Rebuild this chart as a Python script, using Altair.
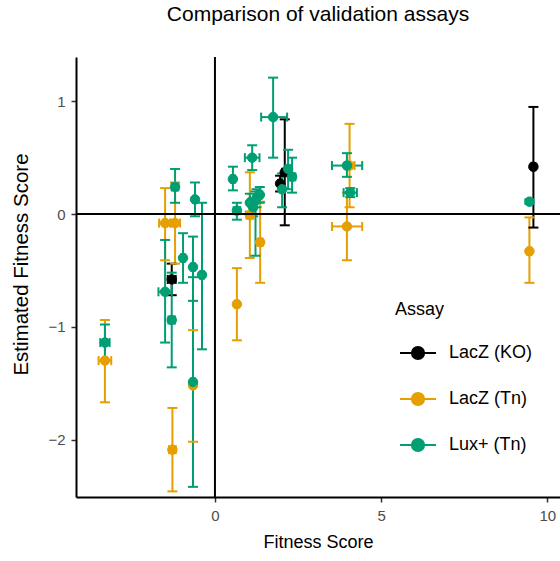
import altair as alt
import pandas as pd

# Validation assay comparison: fitness score vs estimated fitness score
assay = (
    ["LacZ (KO)"] * 4
    + ["LacZ (Tn)"] * 11
    + ["Lux+ (Tn)"] * 24
)

fitness = [
    -1.30, 1.96, 2.10, 9.58,
    -3.31, -1.50, -1.20, -1.28, -0.66, 0.66, 1.05, 1.36, 4.05, 3.97, 9.46,
    -3.31, -1.20, -0.60, -0.96, -0.66, -0.39, -1.50, -1.30, -0.66, 0.54, 0.66,
    1.12, 1.05, 1.15, 1.25, 1.35, 1.75, 2.20, 2.32, 2.02, 3.97, 4.07, 9.46, 1.22,
]
estimate = [
    -0.58, 0.27, 0.37, 0.42,
    -1.30, -0.08, -0.08, -2.09, -1.52, -0.80, -0.01, -0.25, 0.43, -0.11, -0.33,
    -1.14, 0.24, 0.13, -0.39, -0.47, -0.54, -0.69, -0.94, -1.49, 0.31, 0.03,
    0.50, 0.10, 0.06, 0.14, 0.17, 0.86, 0.40, 0.33, 0.22, 0.43, 0.19, 0.11, 0.12,
]
fit_lo = [
    -1.42, 1.90, 2.02, 9.52,
    -3.50, -1.68, -1.35, -1.38, -0.72, 0.62, 0.95, 1.28, 3.90, 3.52, 9.40,
    -3.45, -1.30, -0.66, -1.02, -0.72, -0.45, -1.70, -1.40, -0.72, 0.48, 0.56,
    0.90, 1.00, 1.10, 1.18, 1.28, 1.39, 2.12, 2.22, 1.96, 3.52, 3.87, 9.44, 1.16,
]
fit_hi = [
    -1.18, 2.02, 2.18, 9.64,
    -3.12, -1.32, -1.05, -1.18, -0.60, 0.70, 1.15, 1.44, 4.20, 4.43, 9.52,
    -3.17, -1.10, -0.54, -0.90, -0.60, -0.33, -1.30, -1.20, -0.60, 0.60, 0.76,
    1.34, 1.10, 1.20, 1.32, 1.42, 2.17, 2.28, 2.42, 2.08, 4.43, 4.27, 9.48, 1.28,
]
est_lo = [
    -0.72, 0.20, -0.10, -0.12,
    -1.67, -0.41, -0.44, -2.46, -2.02, -1.12, -0.39, -0.61, 0.06, -0.41, -0.61,
    -1.30, 0.10, -0.02, -0.61, -0.77, -1.20, -1.14, -1.36, -2.42, 0.21, -0.05,
    0.39, 0.02, -0.02, 0.06, 0.10, 0.50, 0.22, 0.19, 0.06, 0.33, 0.15, 0.09, -0.37,
]
est_hi = [
    -0.44, 0.34, 0.84, 0.95,
    -0.94, 0.23, 0.28, -1.72, -1.03, -0.48, 0.37, 0.11, 0.80, 0.19, -0.03,
    -0.98, 0.40, 0.28, -0.17, -0.20, 0.10, -0.23, -0.52, -0.56, 0.42, 0.10,
    0.61, 0.18, 0.14, 0.22, 0.24, 1.21, 0.57, 0.50, 0.36, 0.54, 0.23, 0.13, 0.20,
]

assay_names = ["LacZ (KO)", "LacZ (Tn)", "Lux+ (Tn)"]
assay_colors = ["#000000", "#E69F00", "#009E73"]

df = pd.DataFrame({
    "assay": assay,
    "fitness": fitness,
    "estimate": estimate,
    "fit_lo": fit_lo,
    "fit_hi": fit_hi,
    "est_lo": est_lo,
    "est_hi": est_hi,
})

FONT = "Liberation Sans"

x_scale = alt.Scale(domain=[-4.18, 10.38], nice=False, zero=False)
y_scale = alt.Scale(domain=[-2.51, 1.393], nice=False, zero=False)
x_axis = alt.Axis(values=[0, 5, 10], title="Fitness Score")
y_axis = alt.Axis(
    values=[-2, -1, 0, 1],
    title="Estimated Fitness Score",
    titleFontSize=20.5,
    titleY=207,
    titlePadding=16,
)

# legend key: a short line with a dot in the middle
key_path = "M-1,0L1,0M-0.34,0A0.34,0.34,0,1,0,0.34,0A0.34,0.34,0,1,0,-0.34,0Z"
legend = alt.Legend(
    title="Assay",
    orient="none",
    legendX=319,
    legendY=244,
    symbolType=key_path,
    symbolSize=1296,
    symbolStrokeWidth=2,
    symbolOpacity=1,
    symbolOffset=4,
    labelOffset=12,
    rowPadding=16,
    titlePadding=15,
    padding=0,
    labelFontSize=18,
    titleFontSize=18,
    titleFontWeight="normal",
    labelColor="black",
    titleColor="black",
    labelFont=FONT,
    titleFont=FONT,
)
color_scale = alt.Scale(domain=assay_names, range=assay_colors)
color = alt.Color("assay:N", scale=color_scale, legend=legend)
stroke = alt.Stroke("assay:N", scale=color_scale, legend=legend)

base = alt.Chart(df)

v_bars = base.mark_rule(strokeWidth=2).encode(
    x=alt.X("fitness:Q", scale=x_scale, axis=x_axis),
    y=alt.Y("est_lo:Q", scale=y_scale, axis=y_axis),
    y2="est_hi:Q",
    color=color,
)
v_caps = base.transform_fold(
    ["est_lo", "est_hi"], as_=["end", "est_end"]
).mark_tick(orient="horizontal", size=10, thickness=2, opacity=1).encode(
    x=alt.X("fitness:Q", scale=x_scale, axis=x_axis),
    y=alt.Y("est_end:Q", scale=y_scale, axis=y_axis),
    color=color,
)
h_bars = base.mark_rule(strokeWidth=2).encode(
    x=alt.X("fit_lo:Q", scale=x_scale, axis=x_axis),
    x2="fit_hi:Q",
    y=alt.Y("estimate:Q", scale=y_scale, axis=y_axis),
    color=color,
)
h_caps = base.transform_fold(
    ["fit_lo", "fit_hi"], as_=["end", "fit_end"]
).mark_tick(orient="vertical", size=9, thickness=2, opacity=1).encode(
    x=alt.X("fit_end:Q", scale=x_scale, axis=x_axis),
    y=alt.Y("estimate:Q", scale=y_scale, axis=y_axis),
    color=color,
)
points = base.mark_circle(size=90, opacity=1, strokeWidth=1).encode(
    x=alt.X("fitness:Q", scale=x_scale, axis=x_axis),
    y=alt.Y("estimate:Q", scale=y_scale, axis=y_axis),
    color=color,
    stroke=stroke,
)

zero = pd.DataFrame({"zero": [0.0]})
v_zero = alt.Chart(zero).mark_rule(color="black", strokeWidth=2).encode(
    x=alt.X("zero:Q", scale=x_scale, axis=x_axis)
)
h_zero = alt.Chart(zero).mark_rule(color="black", strokeWidth=2).encode(
    y=alt.Y("zero:Q", scale=y_scale, axis=y_axis)
)

chart = alt.layer(
    v_bars, v_caps, h_bars, h_caps, points, v_zero, h_zero
).properties(
    width=484,
    height=440,
    autosize="none",
    padding={"left": 76, "top": 57, "right": 0, "bottom": 64},
    title=alt.TitleParams(
        "Comparison of validation assays",
        fontSize=21,
        fontWeight="normal",
        color="black",
        font=FONT,
        offset=31,
    ),
).configure_view(
    stroke=None
).configure_axis(
    grid=False,
    domainColor="black",
    domainWidth=2,
    tickColor="#333333",
    tickWidth=1.5,
    tickSize=5,
    labelPadding=6,
    labelColor="#4D4D4D",
    labelFontSize=15,
    labelFont=FONT,
    titleFont=FONT,
    titleFontSize=18,
    titleFontWeight="normal",
    titleColor="black",
    titlePadding=10,
).configure_legend(
    symbolOpacity=1
)

chart.save("out.html", embed_options={"renderer": "svg", "actions": False})
